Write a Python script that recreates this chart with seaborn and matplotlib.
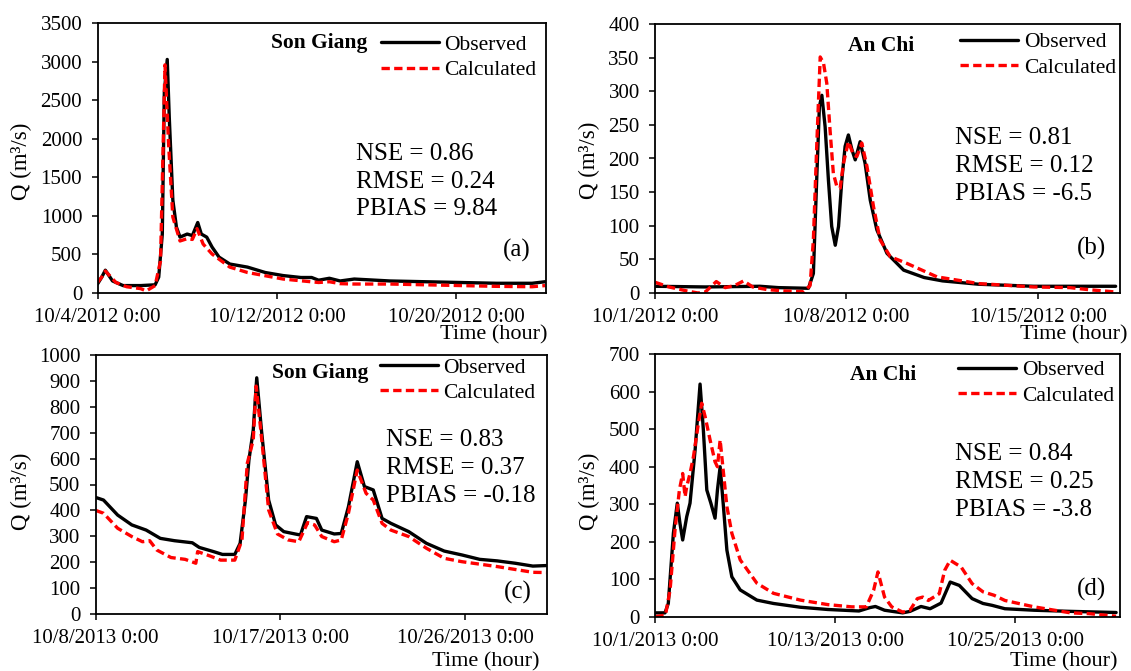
import numpy as np
import pandas as pd
import matplotlib
matplotlib.use("Agg")
import matplotlib.pyplot as plt
import matplotlib.dates as mdates
from matplotlib.ticker import FuncFormatter
import seaborn as sns

# ---------------- data (day offsets from panel start, discharge m3/s) ----------------
a_start = "2012-10-04"
a_obs_days = [0, 0.19, 0.35, 0.67, 1.14, 1.93, 2.57, 2.73, 2.89, 2.98, 3.11, 3.20, 3.36, 3.52, 3.68,
              4.0, 4.23, 4.47, 4.63, 4.87, 5.11, 5.42, 5.90, 6.69, 7.48, 8.28, 9.07, 9.55, 9.86,
              10.34, 10.82, 11.45, 13.04, 14.62, 16.21, 17.79, 19.38, 19.96]
a_obs_q = [110, 200, 290, 150, 90, 90, 100, 200, 760, 2600, 3030, 2280, 1200, 850, 720,
           760, 740, 910, 760, 720, 590, 460, 370, 330, 260, 220, 195, 195, 160,
           185, 150, 175, 150, 140, 130, 120, 120, 140]
a_calc_days = [0, 0.19, 0.35, 0.82, 1.30, 1.93, 2.17, 2.57, 2.81, 3.01, 3.17, 3.36, 3.68, 4.0,
               4.23, 4.44, 4.71, 5.11, 5.90, 6.69, 8.28, 9.86, 10.34, 10.82, 11.45, 13.04,
               16.21, 17.79, 19.38, 19.96]
a_calc_q = [130, 200, 280, 130, 75, 50, 20, 90, 410, 2960, 1930, 980, 670, 700,
            690, 830, 630, 500, 330, 260, 175, 130, 140, 115, 110, 110,
            90, 80, 75, 90]

b_start = "2012-10-01"
b_obs_days = [0, 1.84, 3.84, 4.51, 5.61, 5.79, 5.92, 6.01, 6.10, 6.22, 6.34, 6.46, 6.59, 6.71,
              6.83, 6.95, 7.07, 7.20, 7.32, 7.50, 7.68, 7.87, 8.11, 8.48, 9.09, 9.84, 10.51,
              11.84, 13.84, 16.84]
b_obs_q = [10, 9, 10, 8, 7, 29, 178, 277, 294, 247, 168, 99, 71, 99,
           168, 218, 235, 213, 198, 225, 193, 138, 94, 59, 34, 23, 18,
           13, 10, 10]
b_calc_days = [0, 0.51, 1.17, 1.57, 1.84, 2.24, 2.57, 2.91, 3.24, 3.57, 4.11, 4.77, 5.44, 5.67,
               5.79, 5.92, 6.04, 6.16, 6.28, 6.40, 6.52, 6.65, 6.77, 6.89, 7.07, 7.26, 7.38,
               7.56, 7.75, 7.99, 8.23, 8.60, 9.21, 10.31, 11.84, 13.84, 15.17, 15.84, 16.84]
b_calc_q = [16, 9, 3, 0, 1.5, 17, 8, 11, 18, 9, 5, 3, 2, 11,
            79, 227, 351, 342, 312, 242, 178, 158, 156, 193, 225, 205, 203,
            223, 188, 128, 79, 54, 44, 24, 14, 9, 8, 5, 1.5]

c_start = "2013-10-08"
c_obs_days = [0, 0.38, 1.07, 1.76, 2.46, 3.15, 3.84, 4.71, 5.05, 5.74, 6.18, 6.78, 7.04, 7.30,
              7.47, 7.68, 7.85, 8.08, 8.43, 8.77, 9.17, 9.72, 9.98, 10.28, 10.76, 11.02, 11.63,
              11.97, 12.32, 12.75, 13.10, 13.53, 13.96, 14.39, 15.26, 16.12, 16.99, 17.85,
              18.72, 19.58, 20.45, 21.31, 21.96]
c_obs_q = [450, 440, 382, 344, 324, 292, 283, 275, 257, 241, 230, 230, 273, 440,
           595, 710, 912, 710, 440, 344, 318, 309, 305, 376, 369, 324, 309,
           311, 414, 588, 492, 479, 369, 350, 318, 273, 243, 228,
           211, 205, 196, 185, 187]
c_calc_days = [0, 0.38, 1.07, 1.76, 2.28, 2.63, 2.98, 3.67, 4.36, 4.88, 4.97, 5.57, 6.09, 6.78,
               7.13, 7.39, 7.68, 7.82, 8.08, 8.43, 8.86, 9.38, 9.90, 10.33, 10.67, 11.02, 11.63,
               11.97, 12.32, 12.75, 13.18, 13.53, 13.96, 14.39, 15.26, 16.12, 16.99, 17.85,
               19.58, 21.31, 21.96]
c_calc_q = [400, 389, 331, 299, 279, 283, 247, 218, 211, 196, 241, 224, 208, 208,
            286, 582, 672, 880, 685, 402, 309, 286, 279, 353, 344, 299, 279,
            286, 389, 556, 466, 440, 350, 324, 299, 254, 215, 202,
            183, 161, 160]

d_start = "2013-10-01"
d_obs_days = [0, 0.64, 0.86, 1.20, 1.46, 1.64, 1.82, 2.09, 2.31, 2.65, 2.98, 3.20, 3.43, 3.70,
              3.98, 4.14, 4.32, 4.54, 4.77, 5.10, 5.66, 6.77, 7.88, 9.67, 11.5, 13.58, 14.31,
              14.68, 15.29, 16.50, 16.99, 17.72, 18.33, 19.06, 19.43, 19.67, 20.28, 21.13,
              21.86, 22.47, 23.32, 25.27, 27.70, 30.74]
d_obs_q = [11, 11, 36, 223, 303, 249, 205, 267, 303, 445, 620, 498, 338, 303,
           263, 338, 400, 294, 178, 107, 72, 45, 36, 26, 20, 16, 25,
           28, 18, 11, 15, 28, 22, 37, 71, 93, 84, 49,
           36, 31, 22, 18, 15, 12]
d_calc_days = [0, 0.67, 0.98, 1.31, 1.60, 1.82, 1.98, 2.09, 2.31, 2.54, 2.87, 3.09, 3.32, 3.65,
               3.98, 4.14, 4.32, 4.50, 4.77, 5.10, 5.66, 6.77, 7.88, 9.67, 11.5, 13.10, 14.07,
               14.56, 14.85, 15.29, 15.77, 16.50, 16.99, 17.48, 17.84, 18.21, 18.94, 19.30,
               19.67, 20.40, 21.13, 21.86, 22.59, 23.32, 25.27, 27.70, 28.92, 30.74]
d_calc_q = [1, 5, 72, 232, 338, 382, 320, 347, 382, 427, 516, 569, 533, 471,
            413, 400, 471, 400, 294, 223, 152, 90, 63, 45, 33, 27, 27,
            71, 120, 53, 27, 13, 18, 49, 53, 44, 62, 124,
            151, 133, 89, 67, 58, 44, 27, 11, 9, 2]

stations = ["Son Giang", "An Chi", "Son Giang", "An Chi"]
stats = ["NSE = 0.86\nRMSE = 0.24\nPBIAS = 9.84",
         "NSE = 0.81\nRMSE = 0.12\nPBIAS = -6.5",
         "NSE = 0.83\nRMSE = 0.37\nPBIAS = -0.18",
         "NSE = 0.84\nRMSE = 0.25\nPBIAS = -3.8"]
panel_tags = ["(a)", "(b)", "(c)", "(d)"]
series_names = ["Observed", "Calculated"]

# ---------------- style ----------------
sns.set_theme(style="ticks")
plt.rcParams["font.family"] = ["Liberation Serif", "DejaVu Serif"]
plt.rcParams["axes.edgecolor"] = "black"
plt.rcParams["xtick.color"] = "black"
plt.rcParams["ytick.color"] = "black"
plt.rcParams["text.color"] = "black"

W, H = 1131, 671
fig = plt.figure(figsize=(W / 100, H / 100), dpi=100)
fig.patch.set_facecolor("white")


def px_axes(left, top, right, bottom):
    return fig.add_axes([left / W, 1 - bottom / H, (right - left) / W, (bottom - top) / H])


panels = [
    dict(box=(97.5, 23.3, 546, 292.5), start=a_start, od=a_obs_days, oq=a_obs_q, cd=a_calc_days,
         cq=a_calc_q, xlim=20, tick_days=[0, 8, 16], ymax=3500, ystep=500,
         st=(0.494, 0.926), stat=(0.576, 0.412), tag=(0.935, 0.158), leg=(0.978, 0.957),
         ylab=(21, 161), tlab=(548, 335)),
    dict(box=(655, 24, 1120, 293), start=b_start, od=b_obs_days, oq=b_obs_q, cd=b_calc_days,
         cq=b_calc_q, xlim=17, tick_days=[0, 7, 14], ymax=400, ystep=50,
         st=(0.486, 0.918), stat=(0.645, 0.472), tag=(0.939, 0.167), leg=(0.991, 0.969),
         ylab=(589, 160), tlab=(1128, 335)),
    dict(box=(95.7, 355, 547, 614), start=c_start, od=c_obs_days, oq=c_obs_q, cd=c_calc_days,
         cq=c_calc_q, xlim=22, tick_days=[0, 9, 18], ymax=1000, ystep=100,
         st=(0.498, 0.93), stat=(0.643, 0.564), tag=(0.935, 0.085), leg=(0.975, 0.99),
         ylab=(21, 491), tlab=(539, 662)),
    dict(box=(655.4, 354, 1120, 617), start=d_start, od=d_obs_days, oq=d_obs_q, cd=d_calc_days,
         cq=d_calc_q, xlim=31, tick_days=[0, 12, 24], ymax=700, ystep=100,
         st=(0.491, 0.92), stat=(0.645, 0.513), tag=(0.939, 0.103), leg=(0.987, 0.976),
         ylab=(589, 491), tlab=(1117, 662)),
]


def date_fmt(v, pos=None):
    d = mdates.num2date(v)
    return f"{d.month}/{d.day}/{d.year} {d.hour}:{d.minute:02d}"


for i, p in enumerate(panels):
    ax = px_axes(*p["box"])
    t0 = pd.Timestamp(p["start"])
    obs = pd.DataFrame({"time": t0 + pd.to_timedelta(p["od"], unit="D"), "Q": p["oq"]})
    calc = pd.DataFrame({"time": t0 + pd.to_timedelta(p["cd"], unit="D"), "Q": p["cq"]})
    sns.lineplot(data=obs, x="time", y="Q", ax=ax, color="black", linewidth=2.4,
                 label=series_names[0], legend=False)
    sns.lineplot(data=calc, x="time", y="Q", ax=ax, color="#ff0000", linewidth=2.4,
                 label=series_names[1], legend=False)
    ax.lines[-1].set_dashes((2.5, 1.3))

    ax.set_xlim(t0, t0 + pd.Timedelta(days=p["xlim"]))
    ax.set_xticks([t0 + pd.Timedelta(days=dd) for dd in p["tick_days"]])
    ax.xaxis.set_major_formatter(FuncFormatter(date_fmt))
    ax.set_ylim(0, p["ymax"])
    ax.set_yticks(np.arange(0, p["ymax"] + 1, p["ystep"]))
    ax.tick_params(axis="both", labelsize=15, length=4, width=1.1, direction="out")
    ax.tick_params(axis="x", pad=7)
    ax.tick_params(axis="y", pad=7)
    ax.set_xlabel("")
    ax.set_ylabel("")
    for s in ax.spines.values():
        s.set_linewidth(1.3)
        s.set_color("black")

    handles, labels = ax.get_legend_handles_labels()
    ax.legend(handles, labels, loc="upper right", bbox_to_anchor=p["leg"], frameon=False,
              fontsize=15.5, handlelength=2.7, handletextpad=0.25, labelspacing=0.24,
              borderaxespad=0, borderpad=0)

    ax.text(*p["st"], stations[i], transform=ax.transAxes, ha="center", va="center",
            fontsize=15.5, fontweight="bold")
    ax.text(*p["stat"], stats[i], transform=ax.transAxes, ha="left", va="center",
            fontsize=18, linespacing=1.33)
    ax.text(*p["tag"], panel_tags[i], transform=ax.transAxes, ha="center", va="center",
            fontsize=18)

    fig.text(p["ylab"][0] / W, 1 - p["ylab"][1] / H, "Q (m³/s)", rotation=90,
             ha="center", va="center", fontsize=16.5)
    fig.text(p["tlab"][0] / W, 1 - p["tlab"][1] / H, "Time (hour)", ha="right",
             va="center", fontsize=16)

fig.savefig("out.png", dpi=100, facecolor="white")
